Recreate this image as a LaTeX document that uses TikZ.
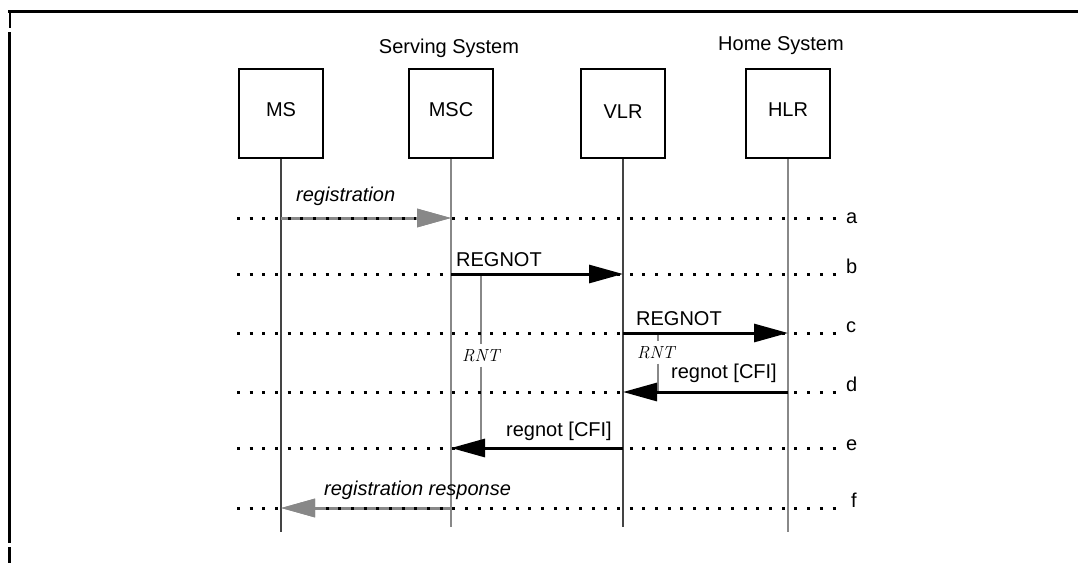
\documentclass[tikz,border=0pt]{standalone}
\usepackage{fontspec}
\setmainfont{Liberation Sans}
\newfontfamily\lmfont{Latin Modern Roman}
\usetikzlibrary{arrows.meta}
\definecolor{lgray}{HTML}{888888}
\definecolor{dgray}{HTML}{444444}
\begin{document}
\begin{tikzpicture}[x=1pt,y=-1pt,
  txt/.style={font=\fontsize{20}{24}\selectfont},
  box/.style={txt,draw,line width=2pt,minimum width=84pt,minimum height=89pt,inner sep=0pt,text height=14.3pt,text depth=9pt},
  lbl/.style={txt,inner sep=0pt,anchor=base west},
  ilbl/.style={lbl,font=\fontsize{20}{24}\selectfont\itshape},
  grp/.style={txt,inner sep=0pt,anchor=base},
  rowlbl/.style={txt,inner sep=0pt,anchor=mid west},
  rnt/.style={font=\lmfont\itshape\fontsize{17.5}{20}\selectfont,inner xsep=0pt,inner ysep=5pt,anchor=base west},
  dotrow/.style={line width=3pt,dash pattern=on 3pt off 9.67pt,shorten >=6pt},
  lifek/.style={draw=dgray,line width=1.2pt},
  lifeg/.style={draw=lgray,line width=2pt},
  msgk/.style={line width=3pt,-{Triangle[length=34pt,width=18pt]}},
  msgg/.style={msgk,draw=lgray},
  timer/.style={draw=lgray,line width=2.5pt}
]
\useasboundingbox (0,0) rectangle (1078,563);
% frame
\draw[line width=3pt] (8,11) -- (1078,11);
\draw[line width=2pt] (9.5,11) -- (9.5,28);
\draw[line width=3pt] (9.5,32) -- (9.5,543);
\draw[line width=3pt] (9.5,547) -- (9.5,563);

% entities
\node[box] (ms) at (281,113.5) {MS};
\node[box] (msc) at (451,113.5) {MSC};
\node[box,text depth=5pt] (vlr) at (623,113.5) {VLR};
\node[box] (hlr) at (788,113.5) {HLR};
\node[grp] (ss) at (449,53) {Serving System};
\node[grp] (hs) at (781,50) {Home System};

% rows
\coordinate (ya) at (237,218);
\coordinate (yb) at (237,274);
\coordinate (yc) at (237,333);
\coordinate (yd) at (237,392);
\coordinate (ye) at (237,448);
\coordinate (yf) at (237,508);
\node[rowlbl] (la) at (846,221) {a};
\node[rowlbl] (lb) at (846,271) {b};
\node[rowlbl] (lc) at (846,330) {c};
\node[rowlbl] (ld) at (846,389) {d};
\node[rowlbl] (le) at (846,448) {e};
\node[rowlbl] (lf) at (851,505) {f};

% lifelines
\draw[lifek] (ms.south) -- (ms.south |- 0,532);
\draw[lifeg] (msc.south) -- (msc.south |- 0,527);
\draw[lifek] (vlr.south) -- (vlr.south |- 0,527);
\draw[lifeg] (hlr.south) -- (hlr.south |- 0,532);

% timers
\coordinate (t1s) at (481,274);
\coordinate (t1e) at (481,448);
\node[rnt] (rnt1) at (462,361) {RNT};
\draw[timer] (t1s) -- (t1s |- rnt1.north);
\draw[timer] (t1s |- rnt1.south) -- (t1e);
\coordinate (t2s) at (658,333);
\coordinate (t2e) at (658,392);
\node[rnt] (rnt2) at (637,358) {RNT};
\draw[timer] (t2s) -- (t2s |- rnt2.north);
\draw[timer] (t2s |- rnt2.south) -- (t2e);

% messages
\coordinate (aend) at (msc.south |- ya);
\coordinate (fend) at (ms.south |- yf);
\draw[msgg] (ms.south |- ya) -- (aend);
\draw[msgk] (msc.south |- yb) -- (vlr.south |- yb);
\draw[msgk] (vlr.south |- yc) -- (hlr.south |- yc);
\draw[msgk] (hlr.south |- yd) -- (vlr.south |- yd);
\draw[msgk] (vlr.south |- ye) -- (msc.south |- ye);
\draw[msgg] (msc.south |- yf) -- (fend);

% dotted rows
\draw[dotrow] (ya) -- (la.west |- ya) ;
\draw[dotrow] (yb) -- (lb.west |- yb) ;
\draw[dotrow] (yc) -- (lc.west |- yc) ;
\draw[dotrow] (yd) -- (ld.west |- yd) ;
\draw[dotrow] (ye) -- (le.west |- ye) ;
\draw[dotrow] (yf) -- (lf.west |- yf) ;

% gray tips over dots
\draw[msgg] ([xshift=-35pt]aend) -- (aend);
\draw[msgg] ([xshift=35pt]fend) -- (fend);

% message labels
\node[ilbl] (m1) at (296,201) {registration};
\node[lbl] (m2) at (456,266) {REGNOT};
\node[lbl] (m3) at (636,325) {REGNOT};
\node[lbl] (m4) at (671,378) {regnot [CFI]};
\node[lbl] (m5) at (506,436) {regnot [CFI]};
\node[ilbl] (m6) at (324,495) {registration response};
\end{tikzpicture}
\end{document}
